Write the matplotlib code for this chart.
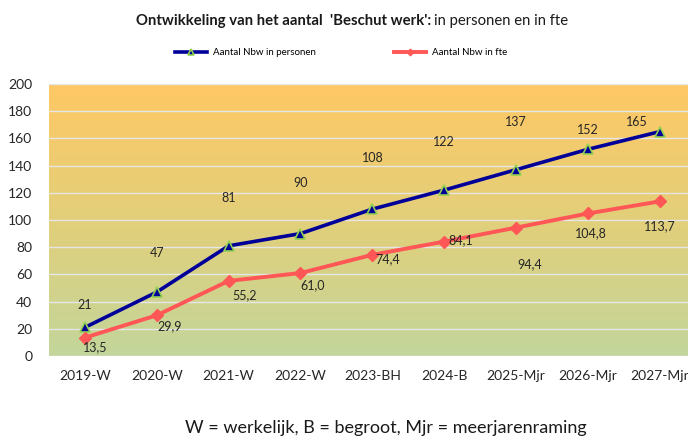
import numpy as np
import matplotlib.pyplot as plt
from matplotlib.colors import LinearSegmentedColormap

# categories and series
years = ['2019-W', '2020-W', '2021-W', '2022-W', '2023-BH', '2024-B', '2025-Mjr', '2026-Mjr', '2027-Mjr']
personen = [21, 47, 81, 90, 108, 122, 137, 152, 165]
fte = [13.5, 29.9, 55.2, 61.0, 74.4, 84.1, 94.4, 104.8, 113.7]

# manual label offsets (pixels), like the hand-placed labels in the original
pers_off = [(0, 22), (0, 39), (0, 48), (0, 51), (0, 51), (0, 48), (0, 48), (0, 19), (-23, 10)]
fte_off = [(10, -10), (13, -11), (16, -14), (12, -12), (15, -4), (16, 1), (14, -37), (3, -20), (0, -25)]

plt.rcParams['font.family'] = ['Lato', 'DejaVu Sans']

fig = plt.figure(figsize=(6.88, 4.4), dpi=100)
ax = fig.add_axes([0.0712, 0.191, 0.94, 0.618])

# background gradient orange -> green
cmap = LinearSegmentedColormap.from_list('bg', ['#C3D69B', '#E2CF7A', '#FFC864'])
grad = np.linspace(0, 1, 256).reshape(-1, 1)
ax.imshow(grad, cmap=cmap, aspect='auto', origin='lower', extent=[0, 1, 0, 1],
          transform=ax.transAxes, zorder=0)

x = np.arange(len(years))
ax.plot(x, personen, color='#000099', lw=2.6, marker='^', ms=7.5,
        mfc='#000099', mec='#92D050', mew=1.2, zorder=3, label='Aantal Nbw in personen')
ax.plot(x, fte, color='#FF5656', lw=2.8, marker='D', ms=6,
        mfc='#FF5656', mec='#FF5656', zorder=3, label='Aantal Nbw in fte')

for i, v in enumerate(personen):
    ax.annotate(str(v), (x[i], v), xytext=pers_off[i], textcoords='offset pixels',
                ha='center', va='center', fontsize=9, color='#262626')
for i, v in enumerate(fte):
    ax.annotate(f'{v:.1f}'.replace('.', ','), (x[i], v), xytext=fte_off[i],
                textcoords='offset pixels', ha='center', va='center', fontsize=9, color='#262626')

ax.set_xlim(-0.5, len(years) - 0.5)
ax.set_ylim(0, 200)
ax.set_yticks(range(0, 201, 20))
ax.set_xticks(x)
ax.set_xticklabels(years)
ax.tick_params(length=0, labelsize=10, colors='#262626')
ax.tick_params(axis='y', pad=12)
ax.tick_params(axis='x', pad=10)
ax.grid(axis='y', color='#E6E6E6', lw=1, zorder=1)
ax.set_axisbelow(False)
for s in ax.spines.values():
    s.set_visible(False)

# title: bold part + regular part
fig.text(0.627, 0.952, "Ontwikkeling van het aantal  'Beschut werk':", ha='right', va='center',
         fontsize=10.7, fontweight='bold', color='#1a1a1a')
fig.text(0.631, 0.952, 'in personen en in fte', ha='left', va='center',
         fontsize=10.7, color='#1a1a1a')

fig.legend(loc='center', bbox_to_anchor=(0.496, 0.88), ncol=2, frameon=False,
           fontsize=7, handlelength=3.3, columnspacing=8, handletextpad=0.6, markerscale=0.55)

fig.text(0.561, 0.027, 'W = werkelijk, B = begroot, Mjr = meerjarenraming', ha='center', va='center',
         fontsize=13, color='#1a1a1a')

fig.savefig('out.png', dpi=100)
